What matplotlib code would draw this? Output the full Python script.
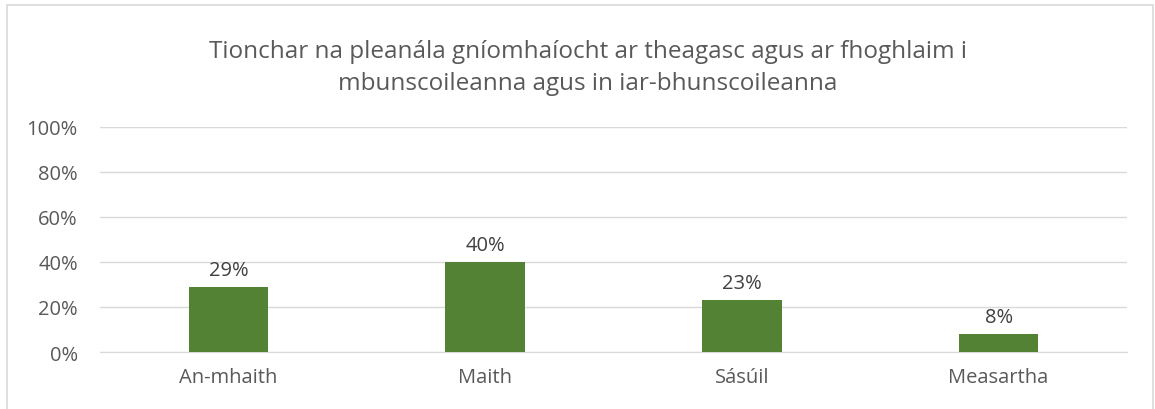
import matplotlib.pyplot as plt
from matplotlib.patches import Rectangle

categories = ["An-mhaith", "Maith", "Sásúil", "Measartha"]
values = [29, 40, 23, 8]
yticks = [0, 20, 40, 60, 80, 100]

plt.rcParams['font.family'] = ['Open Sans', 'DejaVu Sans']
txt = '#595959'

fig = plt.figure(figsize=(11.55, 4.10), dpi=100)
ax = fig.add_axes([100 / 1155, 0.139, 1027 / 1155, 0.549])

x = range(len(categories))
ax.bar(x, values, width=0.31, color='#548235', zorder=3)
for i, v in zip(x, values):
    ax.text(i, v + 3, "{0}%".format(v), ha='center', va='bottom', fontsize=14.5, color='#404040')

ax.set_xlim(-0.5, len(categories) - 0.5)
ax.set_ylim(0, 100)
ax.set_yticks(yticks)
ax.set_yticklabels(["{0}%".format(t) for t in yticks])
ax.set_xticks(list(x))
ax.set_xticklabels(categories)
ax.tick_params(axis='both', length=0, labelsize=14.5, colors=txt)
ax.tick_params(axis='x', pad=11)
ax.tick_params(axis='y', pad=16)
ax.grid(axis='y', color='#d9d9d9', linewidth=1, zorder=0)
for s in ['top', 'right', 'left']:
    ax.spines[s].set_visible(False)
ax.spines['bottom'].set_color('#d9d9d9')

fig.text(0.509, 0.834, "Tionchar na pleanála gníomhaíocht ar theagasc agus ar fhoghlaim i\nmbunscoileanna agus in iar-bhunscoileanna",
         ha='center', va='center', fontsize=17.5, color=txt, linespacing=1.4)

fig.patches.append(Rectangle((7 / 1155, -0.05), 1146 / 1155, 1.05 - 6 / 410,
                             transform=fig.transFigure, fill=False,
                             edgecolor='#d9d9d9', linewidth=1.2))

fig.savefig('out.png', dpi=100)
